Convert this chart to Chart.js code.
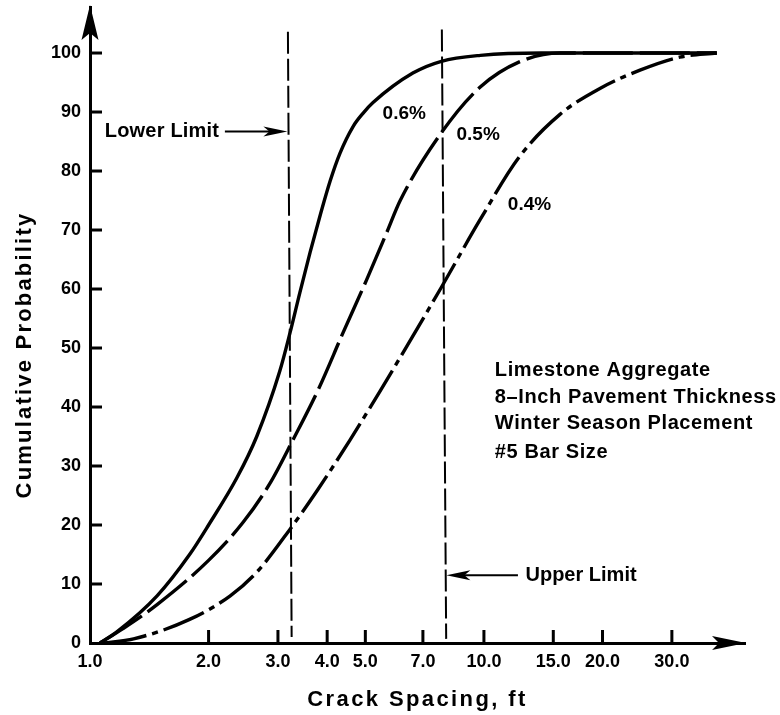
<!DOCTYPE html>
<html>
<head>
<meta charset="utf-8">
<script src="https://cdn.jsdelivr.net/npm/chart.js@4.4.1/dist/chart.umd.min.js"></script>
<style>
html,body{margin:0;padding:0;background:#fff;}
canvas{display:block;}
</style>
</head>
<body>
<canvas id="c" width="780" height="715"></canvas>
<script>
// ---- tick labels ----
const xTickValues = [1, 2, 3, 4, 5, 7, 10, 15, 20, 30];
const xTickLabels = ['1.0', '2.0', '3.0', '4.0', '5.0', '7.0', '10.0', '15.0', '20.0', '30.0'];
const yTickValues = [0, 10, 20, 30, 40, 50, 60, 70, 80, 90, 100];
const yTickLabels = ['0', '10', '20', '30', '40', '50', '60', '70', '80', '90', '100'];

// ---- series: 0.6% steel (solid) ----
const spacing06 = [1.06, 1.17, 1.48, 1.79, 2.0, 2.36, 2.65, 3.03, 3.22, 3.41, 3.62, 3.84, 4.07, 4.31, 4.65, 4.95, 5.23, 6.6, 7.8, 9.8, 14, 39];
const prob06    = [0, 1.9, 8, 15, 20, 28, 35, 46, 52.6, 59.4, 66.2, 72.5, 78.3, 83, 87.5, 89.9, 91.6, 96.6, 98.6, 99.6, 100, 100];

// ---- series: 0.5% steel (dashed) ----
const spacing05 = [1.06, 1.21, 1.48, 2.0, 2.45, 2.86, 3.28, 3.8, 4.39, 5.04, 5.66, 6.13, 7.8, 9.77, 12.3, 15.6, 39];
const prob05    = [0, 2.4, 6.5, 14, 20.5, 27, 34.5, 43, 52.6, 61.6, 69.5, 75, 86.5, 94.2, 98.5, 100, 100];

// ---- series: 0.4% steel (dash-dot) ----
const spacing04 = [1.08, 1.29, 1.79, 2.27, 2.65, 3.22, 3.77, 4.57, 5.45, 6.13, 7.8, 9.77, 12.3, 15.6, 19.7, 24.9, 31.4, 39];
const prob04    = [0, 0.7, 4, 8, 12, 19.3, 25.8, 34.4, 42.7, 48.4, 60.3, 71.7, 82.4, 89.6, 94, 97.1, 99.3, 100];

// ---- limit lines ----
const lowerLimitX = [3.18, 3.25];
const lowerLimitY = [103.6, 1];
const upperLimitX = [7.82, 8.02];
const upperLimitY = [104, 0.7];

// ---- texts ----
const curveLabels = ['0.6%', '0.5%', '0.4%'];
const noteLines = ['Limestone Aggregate', '8\u2013Inch Pavement Thickness', 'Winter Season Placement', '#5 Bar Size'];
const xTitle = 'Crack Spacing, ft';
const yTitle = 'Cumulative Probability';

const FONT = '"Liberation Sans", Arial, Helvetica, sans-serif';

function pts(xs, ys) { return xs.map((x, i) => ({ x: x, y: ys[i] })); }

const layoutCfg = {
  curveLabelAt: [[5.53, 89.7], [8.52, 86.1], [11.5, 74.3]],
  noteAt: [10.66, [46.2, 41.6, 37.2, 32.3]],
  lowerArrow: { from: 2.20, to: 3.17, y: 86.7, textX: 1.09 },
  upperArrow: { from: 12.2, to: 8.03, y: 11.5, textX: 12.75 }
};

function drawText(ctx, str, x, y, size, align, spacing) {
  ctx.font = 'bold ' + size + 'px ' + FONT;
  ctx.textAlign = align || 'left';
  ctx.textBaseline = 'middle';
  try { ctx.letterSpacing = (spacing || 0) + 'px'; } catch (e) {}
  ctx.fillText(str, x, y);
  try { ctx.letterSpacing = '0px'; } catch (e) {}
}

function hArrow(ctx, x1, x2, y) {
  const dir = x2 > x1 ? 1 : -1;
  ctx.lineWidth = 2;
  ctx.beginPath();
  ctx.moveTo(x1, y);
  ctx.lineTo(x2 - dir * 10, y);
  ctx.stroke();
  ctx.beginPath();
  ctx.moveTo(x2, y);
  ctx.lineTo(x2 - dir * 24, y - 5);
  ctx.lineTo(x2 - dir * 18, y);
  ctx.lineTo(x2 - dir * 24, y + 5);
  ctx.closePath();
  ctx.fill();
}

function drawTickMarks(chart) {
  const ctx = chart.ctx;
  const xs = chart.scales.x, ys = chart.scales.y;
  const left = xs.getPixelForValue(1);
  const bottom = ys.getPixelForValue(0);
  ctx.save();
  ctx.setLineDash([]);
  ctx.fillStyle = '#000';
  for (let i = 1; i < yTickValues.length; i++) {
    const y = ys.getPixelForValue(yTickValues[i]);
    ctx.fillRect(left, y - 1.5, 12, 3);
  }
  for (let i = 1; i < xTickValues.length; i++) {
    const x = xs.getPixelForValue(xTickValues[i]);
    ctx.fillRect(x - 1.5, bottom - 13, 3, 13);
  }
  ctx.restore();
}

const decor = {
  id: 'decor',
  afterDraw(chart) {
    const ctx = chart.ctx;
    const xs = chart.scales.x, ys = chart.scales.y;
    const a = chart.chartArea;
    ctx.save();
    ctx.setLineDash([]);
    ctx.fillStyle = '#000';
    ctx.strokeStyle = '#000';

    // axis arrowheads
    ctx.beginPath();
    ctx.moveTo(a.left, a.top - 2);
    ctx.lineTo(a.left - 8.5, a.top + 33);
    ctx.lineTo(a.left, a.top + 26);
    ctx.lineTo(a.left + 8.5, a.top + 33);
    ctx.closePath();
    ctx.fill();

    ctx.beginPath();
    ctx.moveTo(a.right + 1, a.bottom);
    ctx.lineTo(a.right - 33, a.bottom - 7);
    ctx.lineTo(a.right - 26, a.bottom);
    ctx.lineTo(a.right - 33, a.bottom + 7);
    ctx.closePath();
    ctx.fill();

    // limit arrows
    const la = layoutCfg.lowerArrow, ua = layoutCfg.upperArrow;
    hArrow(ctx, xs.getPixelForValue(la.from), xs.getPixelForValue(la.to), ys.getPixelForValue(la.y));
    hArrow(ctx, xs.getPixelForValue(ua.from), xs.getPixelForValue(ua.to), ys.getPixelForValue(ua.y));
    drawText(ctx, 'Lower Limit', xs.getPixelForValue(la.textX), ys.getPixelForValue(la.y), 20, 'left', 0.2);
    drawText(ctx, 'Upper Limit', xs.getPixelForValue(ua.textX), ys.getPixelForValue(ua.y), 20, 'left', 0);

    // curve labels
    curveLabels.forEach((t, i) => {
      const p = layoutCfg.curveLabelAt[i];
      drawText(ctx, t, xs.getPixelForValue(p[0]), ys.getPixelForValue(p[1]), 19, 'left', 0);
    });

    // note block
    noteLines.forEach((t, i) => {
      drawText(ctx, t, xs.getPixelForValue(layoutCfg.noteAt[0]), ys.getPixelForValue(layoutCfg.noteAt[1][i]), 20, 'left', 0.6);
    });

    // axis titles
    drawText(ctx, xTitle, (a.left + a.right) / 2, 700, 22, 'center', 2.4);
    ctx.save();
    ctx.translate(25, 355);
    ctx.rotate(-Math.PI / 2);
    drawText(ctx, yTitle, 0, 0, 22, 'center', 2.2);
    ctx.restore();

    ctx.restore();

    // inward tick marks
    drawTickMarks(chart);
  }
};

const curveBase = {
  showLine: true,
  pointRadius: 0,
  pointHoverRadius: 0,
  borderColor: '#000',
  backgroundColor: '#000',
  borderWidth: 3.4,
  fill: false,
  cubicInterpolationMode: 'monotone',
  borderCapStyle: 'butt',
  borderJoinStyle: 'round'
};

new Chart(document.getElementById('c'), {
  type: 'scatter',
  data: {
    datasets: [
      Object.assign({}, curveBase, { label: '0.4%', data: pts(spacing04, prob04), borderDash: [44, 6, 6, 6] }),
      Object.assign({}, curveBase, { label: '0.5%', data: pts(spacing05, prob05), borderDash: [50, 7] }),
      Object.assign({}, curveBase, { label: '0.6%', data: pts(spacing06, prob06) }),
      Object.assign({}, curveBase, { label: 'Lower Limit', data: pts(lowerLimitX, lowerLimitY), borderWidth: 2, borderDash: [22, 5], cubicInterpolationMode: 'default', tension: 0 }),
      Object.assign({}, curveBase, { label: 'Upper Limit', data: pts(upperLimitX, upperLimitY), borderWidth: 2, borderDash: [22, 5], cubicInterpolationMode: 'default', tension: 0 })
    ]
  },
  options: {
    responsive: false,
    animation: false,
    events: [],
    layout: { padding: { top: 7, right: 35, bottom: 0, left: 0 } },
    plugins: { legend: { display: false }, tooltip: { enabled: false }, title: { display: false } },
    scales: {
      x: {
        type: 'logarithmic',
        position: 'bottom',
        min: 1,
        max: 46,
        afterBuildTicks: s => { s.ticks = xTickValues.map(v => ({ value: v })); },
        afterFit: s => { s.height = 72; s.paddingLeft = 0; s.paddingRight = 0; },
        ticks: {
          autoSkip: false, maxRotation: 0, minRotation: 0, padding: 8,
          color: '#000', font: { family: FONT, size: 18, weight: 'bold' },
          callback: (v, i) => xTickLabels[i]
        },
        grid: { display: false, drawOnChartArea: false, drawTicks: false },
        border: { display: true, color: '#000', width: 3 }
      },
      y: {
        type: 'linear',
        position: 'left',
        min: 0,
        max: 107.8,
        afterBuildTicks: s => { s.ticks = yTickValues.map(v => ({ value: v })); },
        afterFit: s => { s.width = 90; s.paddingTop = 0; s.paddingBottom = 0; },
        ticks: {
          autoSkip: false, padding: 9, color: '#000', font: { family: FONT, size: 18, weight: 'bold' },
          callback: (v, i) => yTickLabels[i]
        },
        grid: { display: false, drawOnChartArea: false, drawTicks: false },
        border: { display: true, color: '#000', width: 3 }
      }
    }
  },
  plugins: [decor]
});
</script>
</body>
</html>
